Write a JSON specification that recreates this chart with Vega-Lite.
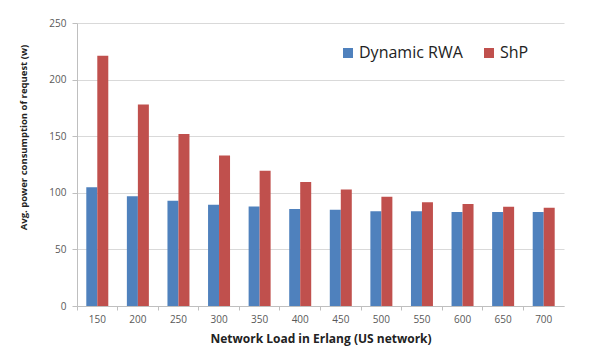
{
  "$schema": "https://vega.github.io/schema/vega-lite/v6.json",
  "width": 487,
  "height": 283,
  "autosize": "none",
  "padding": {"left": 77, "top": 23, "right": 32, "bottom": 46},
  "background": "white",
  "config": {
    "view": {"stroke": null},
    "font": "Open Sans"
  },
  "data": {
    "values": [
      {"load": "150", "series": "Dynamic RWA", "value": 105},
      {"load": "150", "series": "ShP", "value": 221},
      {"load": "200", "series": "Dynamic RWA", "value": 97},
      {"load": "200", "series": "ShP", "value": 178},
      {"load": "250", "series": "Dynamic RWA", "value": 93},
      {"load": "250", "series": "ShP", "value": 152},
      {"load": "300", "series": "Dynamic RWA", "value": 89.5},
      {"load": "300", "series": "ShP", "value": 133},
      {"load": "350", "series": "Dynamic RWA", "value": 88},
      {"load": "350", "series": "ShP", "value": 119.5},
      {"load": "400", "series": "Dynamic RWA", "value": 85.7},
      {"load": "400", "series": "ShP", "value": 109.5},
      {"load": "450", "series": "Dynamic RWA", "value": 85},
      {"load": "450", "series": "ShP", "value": 103},
      {"load": "500", "series": "Dynamic RWA", "value": 83.8},
      {"load": "500", "series": "ShP", "value": 96.5},
      {"load": "550", "series": "Dynamic RWA", "value": 83.6},
      {"load": "550", "series": "ShP", "value": 91.6},
      {"load": "600", "series": "Dynamic RWA", "value": 83},
      {"load": "600", "series": "ShP", "value": 90},
      {"load": "650", "series": "Dynamic RWA", "value": 83},
      {"load": "650", "series": "ShP", "value": 87.7},
      {"load": "700", "series": "Dynamic RWA", "value": 83},
      {"load": "700", "series": "ShP", "value": 86.8}
    ]
  },
  "mark": {"type": "bar"},
  "encoding": {
    "x": {
      "field": "load",
      "type": "nominal",
      "sort": null,
      "scale": {"paddingInner": 0, "paddingOuter": 0},
      "axis": {
        "title": "Network Load in Erlang (US network)",
        "titleFont": "Open Sans",
        "titleFontSize": 12,
        "titleFontWeight": "bold",
        "titleColor": "#222222",
        "titlePadding": 9,
        "labelAngle": 0,
        "labelFontSize": 10,
        "labelColor": "#595959",
        "labelPadding": 4,
        "bandPosition": 0,
        "tickSize": 4,
        "tickColor": "#bfbfbf",
        "domainColor": "#bfbfbf",
        "grid": false
      }
    },
    "xOffset": {
      "field": "series",
      "type": "nominal",
      "scale": {"paddingInner": 0, "paddingOuter": 0.845}
    },
    "y": {
      "field": "value",
      "type": "quantitative",
      "scale": {"domain": [0, 250], "nice": false},
      "axis": {
        "title": "Avg. power consumption of request (w)",
        "titleFont": "Open Sans",
        "titleFontSize": 9.5,
        "titleFontWeight": "bold",
        "titleColor": "#222222",
        "titlePadding": 20,
        "titleY": 114,
        "values": [0, 50, 100, 150, 200, 250],
        "labelFontSize": 10,
        "labelColor": "#595959",
        "labelPadding": 6,
        "tickSize": 5,
        "tickColor": "#bfbfbf",
        "domainColor": "#bfbfbf",
        "gridColor": "#d9d9d9",
        "gridWidth": 1
      }
    },
    "color": {
      "field": "series",
      "type": "nominal",
      "scale": {"domain": ["Dynamic RWA", "ShP"], "range": ["#4F81BD", "#C0504D"]},
      "legend": {
        "title": null,
        "orient": "none",
        "legendX": 263,
        "legendY": 22,
        "direction": "horizontal",
        "symbolType": "square",
        "symbolSize": 100,
        "symbolStrokeWidth": 0,
        "labelFontSize": 16,
        "labelOffset": 3,
        "labelColor": "#222222",
        "columnPadding": 18
      }
    }
  }
}
